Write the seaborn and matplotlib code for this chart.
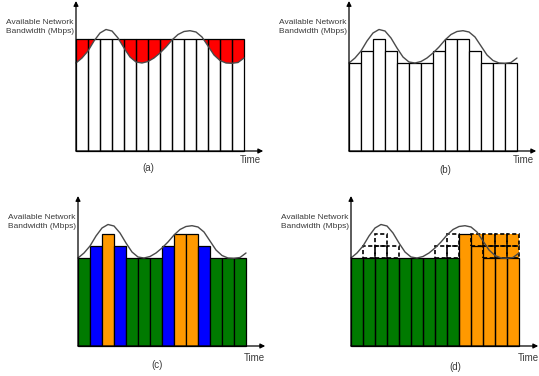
import numpy as np
import matplotlib
matplotlib.use('Agg')
import matplotlib.pyplot as plt
import seaborn as sns

# --------------------------
# Data
# --------------------------
slots = list(range(14))                      # time slots
LOW, MID, HIGH = 88, 100, 112                # layer levels (Mbps, arbitrary)

curve_t = [0, 0.5, 1, 1.5, 2, 2.5, 3, 3.5, 4, 4.5, 5, 5.5, 6, 6.5, 7, 7.5,
           8, 8.5, 9, 9.5, 10, 10.5, 11, 11.5, 12, 12.5, 13, 13.5, 14]
curve_bw = [88, 93, 100, 110, 118, 121.5, 120, 113, 103, 94, 89, 88, 89.5, 93,
            98, 104, 111, 116.5, 119.5, 120.3, 119, 114, 105, 96, 90.5, 88,
            87.7, 88.5, 93]

a_heights = [HIGH] * 14
b_heights = [LOW, MID, HIGH, MID, LOW, LOW, LOW, MID, HIGH, HIGH, MID, LOW, LOW, LOW]
c_colors = ['green', 'blue', 'orange', 'blue', 'green', 'green', 'green',
            'blue', 'orange', 'orange', 'blue', 'green', 'green', 'green']
d_heights = [LOW] * 9 + [HIGH] * 5
d_colors = ['green'] * 9 + ['orange'] * 5
d_solid_tops = [HIGH, MID, LOW, LOW, LOW]    # slots 9..13, solid outline part
# deferred layers drawn dashed: (slot, bottom, top)
d_dashed = [(1, LOW, MID), (2, LOW, MID), (3, LOW, MID), (2, MID, HIGH),
            (7, LOW, MID), (8, LOW, MID), (8, MID, HIGH),
            (10, MID, HIGH), (11, MID, HIGH), (12, MID, HIGH), (13, MID, HIGH),
            (11, LOW, MID), (12, LOW, MID), (13, LOW, MID)]

palette = {'green': '#007a00', 'blue': '#0000ff', 'orange': '#ff9900', 'red': '#ff0000'}

# --------------------------
# Style
# --------------------------
sns.set_theme(style='white')
plt.rcParams['font.family'] = ['Liberation Sans', 'DejaVu Sans']
TXT = '#3a3a3a'

W, H = 539, 376
fig = plt.figure(figsize=(W / 100, H / 100), dpi=100)
fig.patch.set_facecolor('white')

X0, X1, Y0, Y1 = -7, 16.5, -25, 152
PX = 12  # pixels per time slot


def make_panel(ox, oy, label, lab_xy, time_xy):
    left = ox + X0 * PX
    bottom_px = oy - Y0
    ax = fig.add_axes([left / W, (H - bottom_px) / H, (X1 - X0) * PX / W, (Y1 - Y0) / H])
    ax.set_xlim(X0, X1)
    ax.set_ylim(Y0, Y1)
    ax.axis('off')
    # axes with arrows
    arrow = dict(arrowstyle='-|>', color='black', lw=0.9, mutation_scale=7,
                 shrinkA=0, shrinkB=0)
    ax.annotate('', xy=(15.6, 0), xytext=(0, 0), arrowprops=arrow, zorder=6)
    ax.annotate('', xy=(0, 150), xytext=(0, 0), arrowprops=arrow, zorder=6)
    ax.text(-0.2, 124, 'Available Network\nBandwidth (Mbps)', ha='right', va='center',
            fontsize=6, color=TXT, linespacing=1.5, clip_on=False, zorder=7)
    ax.text(time_xy[0], time_xy[1], 'Time', ha='center', va='center',
            fontsize=7, color=TXT, clip_on=False)
    ax.text(lab_xy[0], lab_xy[1], label, ha='center', va='center',
            fontsize=7, color=TXT, clip_on=False)
    return ax


def draw_curve(ax):
    sns.lineplot(x=curve_t, y=curve_bw, ax=ax, color='#4a4a4a', lw=1.0,
                 sort=False, legend=False, zorder=5)
    ax.set_xlabel('')
    ax.set_ylabel('')


# (a) constant rate, red = buffer drain
ax = make_panel(76, 151, '(a)', (6.0, -17), (14.5, -9))
ax.bar(slots, a_heights, width=1, align='edge', color='white', lw=0, zorder=1)
ax.fill_between(curve_t, curve_bw, HIGH, where=np.array(curve_bw) <= HIGH,
                interpolate=True, color=palette['red'], lw=0, zorder=2)
ax.bar(slots, a_heights, width=1, align='edge', facecolor='none',
       edgecolor='black', lw=0.9, zorder=3)
draw_curve(ax)

# (b) layered, following the bandwidth
ax = make_panel(349, 151, '(b)', (8.0, -19), (14.5, -9))
ax.bar(slots, b_heights, width=1, align='edge', color='white',
       edgecolor='black', lw=0.9, zorder=3)
draw_curve(ax)

# (c) colored layers
ax = make_panel(78, 346, '(c)', (6.55, -19), (14.7, -12))
ax.bar(slots, b_heights, width=1, align='edge',
       color=[palette[c] for c in c_colors], edgecolor='black', lw=0.9, zorder=3)
draw_curve(ax)

# (d) deferred layers
ax = make_panel(351, 346, '(d)', (8.67, -21), (14.8, -12))
ax.bar(slots, d_heights, width=1, align='edge',
       color=[palette[c] for c in d_colors], lw=0, zorder=2)
ax.bar(slots[:9], d_heights[:9], width=1, align='edge', facecolor='none',
       edgecolor='black', lw=0.9, zorder=3)
ax.bar(slots[9:], d_solid_tops, width=1, align='edge', facecolor='none',
       edgecolor='black', lw=0.9, zorder=3)
for s, lo, hi in d_dashed:
    ax.bar(s, hi - lo, bottom=lo, width=1, align='edge', facecolor='none',
           edgecolor='black', lw=1.2, linestyle=(0, (2.5, 1.5)), zorder=4)
draw_curve(ax)

plt.savefig('out.png', dpi=100, facecolor='white')
